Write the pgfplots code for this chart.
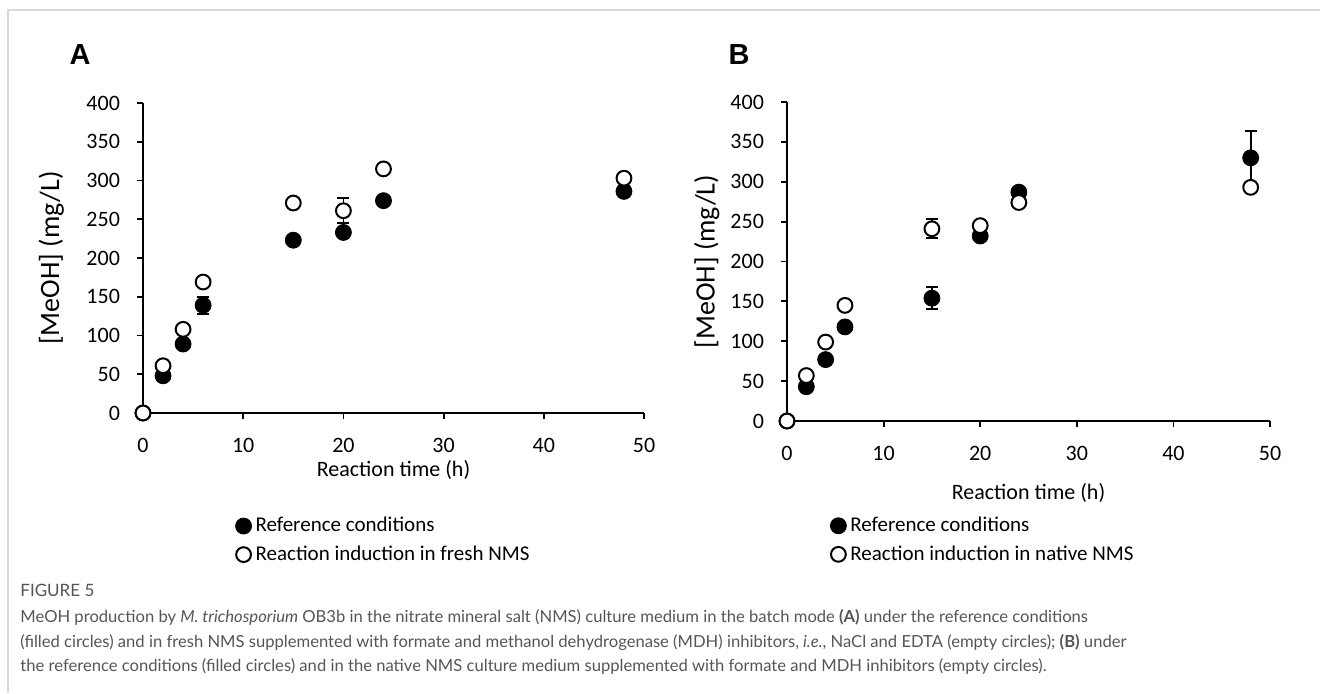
\documentclass[border=0pt]{standalone}
\usepackage{fontspec}
\setmainfont{Carlito}
\newfontfamily\capfont{Lato}
\newfontfamily\letterfont{Liberation Sans}
\usepackage{pgfplots}
\usepackage{pgfplotstable}
\pgfplotsset{compat=1.18}
\definecolor{capgray}{HTML}{555555}
\definecolor{framegray}{HTML}{D9D9D9}

% t = reaction time (h), y = [MeOH] (mg/L), e = error
\pgfplotstableread{
t y e
0 0 0
2 48 0
4 89 0
6 139 11
15 223 0
20 233 0
24 274 0
48 286 0
}\refA
\pgfplotstableread{
t y e
0 0 0
2 61 0
4 108 0
6 169 0
15 271 0
20 261 16
24 315 0
48 303 0
}\freshA
\pgfplotstableread{
t y e
0 0 0
2 43 0
4 77 0
6 118 0
15 154 14
20 232 0
24 287 0
48 330 34
}\refB
\pgfplotstableread{
t y e
0 0 0
2 57 0
4 99 0
6 145 0
15 241 12
20 245 0
24 274 0
48 293 0
}\nativeB

\pgfplotsset{
  panel/.style={
    scale only axis,
    axis lines=left,
    axis line style={-, line width=0.9pt},
    xmin=0, xmax=50, ymin=0, ymax=400,
    xtick={0,10,...,50}, ytick={0,50,...,400},
    tick align=outside, major tick length=3pt,
    tick style={black, line width=0.9pt},
    /pgf/number format/assume math mode=true,
    ticklabel style={font=\fontsize{11}{13}\selectfont},
    xticklabel style={yshift=-6pt},
    yticklabel style={xshift=-5pt},
    xlabel style={font=\fontsize{11}{13}\selectfont},
    ylabel style={font=\fontsize{14}{16}\selectfont},
    xlabel={Reaction time (h)},
    ylabel={[MeOH] (mg/L)},
    clip=false,
    legend style={draw=none, fill=none, inner sep=0pt,
      font=\fontsize{10.5}{12}\selectfont, row sep=1.5pt,
      anchor=north west},
    legend cell align=left,
    legend image code/.code={\draw[##1] plot coordinates {(3.9pt,0pt)};},
  },
  filled/.style={only marks, mark=*, mark size=4pt,
    mark options={fill=black, draw=black},
    error bars/.cd, y dir=both, y explicit,
    error bar style={black, line width=0.9pt},
    error mark options={rotate=90, mark size=3pt, line width=0.9pt}},
  empty/.style={only marks, mark=*, mark size=3.7pt,
    mark options={fill=white, draw=black, line width=1pt},
    error bars/.cd, y dir=both, y explicit,
    error bar style={black, line width=0.9pt},
    error mark options={rotate=90, mark size=3pt, line width=0.9pt}},
}

\begin{document}
\begin{tikzpicture}
\path[use as bounding box] (0,0) rectangle (660pt,-346.5pt);
\draw[framegray, line width=1pt] (4pt,-346.5pt) -- (4pt,-5pt) -- (660pt,-5pt);

\node[font=\letterfont\bfseries\fontsize{14.5}{16}\selectfont] at (40pt,-27.5pt) {A};
\node[font=\letterfont\bfseries\fontsize{14.5}{16}\selectfont] at (369.5pt,-27.5pt) {B};

\begin{axis}[panel,
  at={(71.5pt,-206.5pt)}, anchor=south west,
  width=250.5pt, height=155pt,
  xlabel style={at={(axis description cs:0.5,0)}, anchor=center, yshift=-28.5pt},
  ylabel style={at={(axis description cs:-0.183,0.5)}, anchor=center, rotate=0},
  legend style={at={(axis description cs:0.184,-0.322)}},
]
\addplot[filled] table[x=t, y=y, y error=e] {\refA};
\addlegendentry{Reference conditions}
\addplot[empty] table[x=t, y=y, y error=e] {\freshA};
\addlegendentry{Reaction induction in fresh NMS}
\end{axis}

\begin{axis}[panel,
  at={(393.5pt,-210.5pt)}, anchor=south west,
  width=241.5pt, height=159.5pt,
  xlabel style={at={(axis description cs:0.5,0)}, anchor=center, yshift=-36pt},
  ylabel style={at={(axis description cs:-0.166,0.5)}, anchor=center, rotate=0},
  legend style={at={(axis description cs:0.089,-0.287)}},
]
\addplot[filled] table[x=t, y=y, y error=e] {\refB};
\addlegendentry{Reference conditions}
\addplot[empty] table[x=t, y=y, y error=e] {\nativeB};
\addlegendentry{Reaction induction in native NMS}
\end{axis}

\begin{scope}[capgray, every node/.style={anchor=base west, inner sep=0pt,
    font=\capfont\fontsize{8.3}{10}\selectfont}]
\node[font=\capfont\fontsize{8.5}{10}\selectfont] at (10pt,-298pt) {FIGURE 5};
\node at (10pt,-311pt) {MeOH production by \textit{M. trichosporium} OB3b in the nitrate mineral salt (NMS) culture medium in the batch mode \textbf{(A)} under the reference conditions};
\node at (10pt,-323.5pt) {(filled circles) and in fresh NMS supplemented with formate and methanol dehydrogenase (MDH) inhibitors, \textit{i.e.}, NaCl and EDTA (empty circles); \textbf{(B)} under};
\node at (10pt,-335.5pt) {the reference conditions (filled circles) and in the native NMS culture medium supplemented with formate and MDH inhibitors (empty circles).};
\end{scope}
\end{tikzpicture}
\end{document}
